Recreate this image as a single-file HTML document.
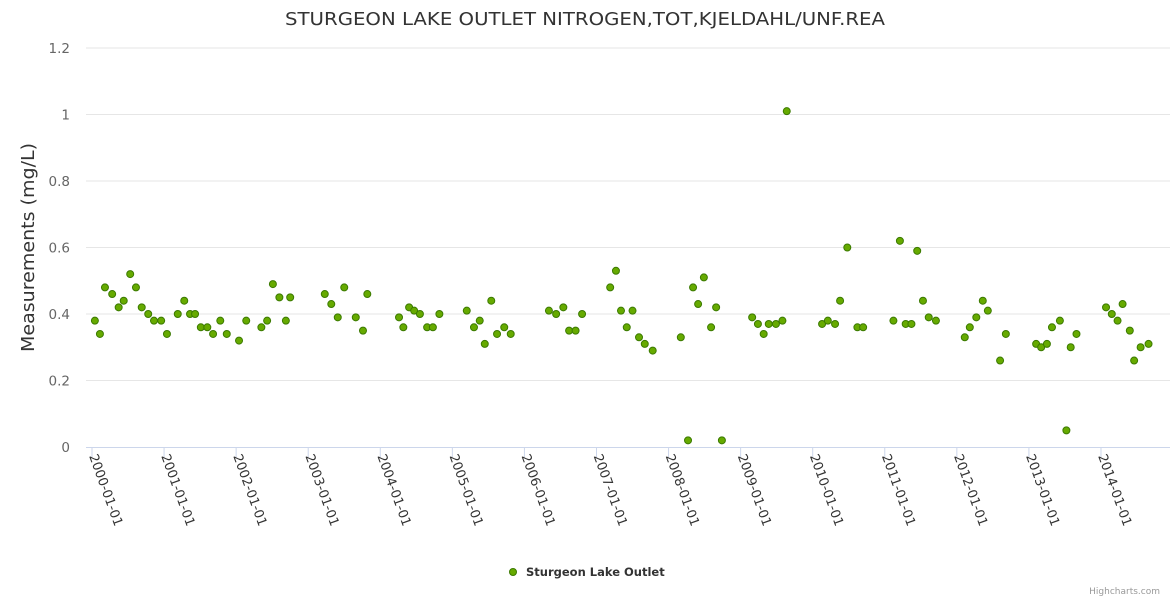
<!DOCTYPE html>
<html><head><meta charset="utf-8"><style>
body{margin:0;background:#fff}
svg text{font-family:"DejaVu Sans","Liberation Sans",sans-serif}
</style></head><body>
<svg id="chart" width="1170" height="600" xmlns="http://www.w3.org/2000/svg">
<text x="285" y="25" font-size="17.5" fill="#333" textLength="600" lengthAdjust="spacingAndGlyphs">STURGEON LAKE OUTLET NITROGEN,TOT,KJELDAHL/UNF.REA</text>
<text transform="translate(34,352) rotate(-90)" font-size="18" fill="#333" textLength="209" lengthAdjust="spacingAndGlyphs">Measurements (mg/L)</text>
<g id="grid"></g><g id="xaxis"></g><g id="pts"></g>
<g>
<circle cx="513" cy="572" r="3.5" fill="#66aa00" stroke="#3b7a00" stroke-width="1"/>
<text x="526" y="576" font-size="11.5" font-weight="bold" fill="#333">Sturgeon Lake Outlet</text></g>
<text x="1160" y="594" text-anchor="end" font-size="9" fill="#999">Highcharts.com</text>
</svg>
<script>
const yTicks=[0,0.2,0.4,0.6,0.8,1,1.2];
const yTickLabels=["0","0.2","0.4","0.6","0.8","1","1.2"];
const xYears=[2000,2001,2002,2003,2004,2005,2006,2007,2008,2009,2010,2011,2012,2013,2014,2015];
const dates=[2000.04,2000.11,2000.18,2000.28,2000.37,2000.44,2000.53,2000.61,2000.69,2000.78,2000.86,2000.96,2001.04,2001.19,2001.28,2001.36,2001.43,2001.51,2001.6,2001.68,2001.78,2001.87,2002.04,2002.14,2002.35,2002.43,2002.51,2002.6,2002.69,2002.75,
2003.23,2003.32,2003.41,2003.5,2003.66,2003.76,2003.82,
2004.26,2004.32,2004.4,2004.47,2004.55,2004.65,2004.73,2004.82,
2005.2,2005.3,2005.38,2005.45,2005.54,2005.62,2005.72,2005.81,
2006.34,2006.44,2006.54,2006.62,2006.71,2006.8,
2007.19,2007.27,2007.34,2007.42,2007.5,2007.59,2007.67,2007.78,
2008.17,2008.27,2008.34,2008.41,2008.49,2008.59,2008.66,2008.74,
2009.16,2009.24,2009.32,2009.39,2009.49,2009.58,2009.64,
2010.13,2010.21,2010.31,2010.38,2010.48,2010.62,2010.7,
2011.12,2011.21,2011.29,2011.37,2011.45,2011.53,2011.61,2011.71,
2012.11,2012.18,2012.27,2012.36,2012.43,2012.6,2012.68,
2013.1,2013.17,2013.25,2013.32,2013.43,2013.52,2013.58,2013.66,
2014.07,2014.15,2014.23,2014.3,2014.4,2014.46,2014.55,2014.66];
const values=[0.38,0.34,0.48,0.46,0.42,0.44,0.52,0.48,0.42,0.40,0.38,0.38,0.34,0.40,0.44,0.40,0.40,0.36,0.36,0.34,0.38,0.34,0.32,0.38,0.36,0.38,0.49,0.45,0.38,0.45,
0.46,0.43,0.39,0.48,0.39,0.35,0.46,
0.39,0.36,0.42,0.41,0.40,0.36,0.36,0.40,
0.41,0.36,0.38,0.31,0.44,0.34,0.36,0.34,
0.41,0.40,0.42,0.35,0.35,0.40,
0.48,0.53,0.41,0.36,0.41,0.33,0.31,0.29,
0.33,0.02,0.48,0.43,0.51,0.36,0.42,0.02,
0.39,0.37,0.34,0.37,0.37,0.38,1.01,
0.37,0.38,0.37,0.44,0.60,0.36,0.36,
0.38,0.62,0.37,0.37,0.59,0.44,0.39,0.38,
0.33,0.36,0.39,0.44,0.41,0.26,0.34,
0.31,0.30,0.31,0.36,0.38,0.05,0.30,0.34,
0.42,0.40,0.38,0.43,0.35,0.26,0.30,0.31];
const NS="http://www.w3.org/2000/svg";
const X=d=>92+(d-2000)*72.07, Y=v=>447-v*332.5;
function mk(t,a,p){const e=document.createElementNS(NS,t);for(const k in a)e.setAttribute(k,a[k]);p.appendChild(e);return e;}
const grid=document.getElementById('grid'),xa=document.getElementById('xaxis'),pts=document.getElementById('pts');
yTicks.forEach((t,i)=>{
 if(t>0){const l=mk('line',{x1:86,x2:1170,y1:Y(t),y2:Y(t),stroke:'#e6e6e6'},grid);
 
 }
 const tx=mk('text',{x:70,y:Y(t)+5,'text-anchor':'end','font-size':13.5,fill:'#666'},grid);tx.textContent=yTickLabels[i];
 
 
});
const ax=mk('line',{x1:86,x2:1170,y1:447.5,y2:447.5,stroke:'#ccd6eb'},xa);


xYears.forEach(y=>{
 const x=X(y);
 const tk=mk('line',{x1:x,x2:x,y1:447,y2:457,stroke:'#ccd6eb'},xa);
 
 
 const tx=mk('text',{transform:`translate(${x-3},${456}) rotate(70)`,'font-size':13,fill:'#333'},xa);
 tx.textContent=y+'-01-01';
 
 
});
dates.forEach((d,i)=>{
 const c=mk('circle',{cx:X(d),cy:Y(values[i]),r:3.5,fill:'#66aa00',stroke:'#3b7a00','stroke-width':1},pts);
 
 
});
</script>
</body></html>
